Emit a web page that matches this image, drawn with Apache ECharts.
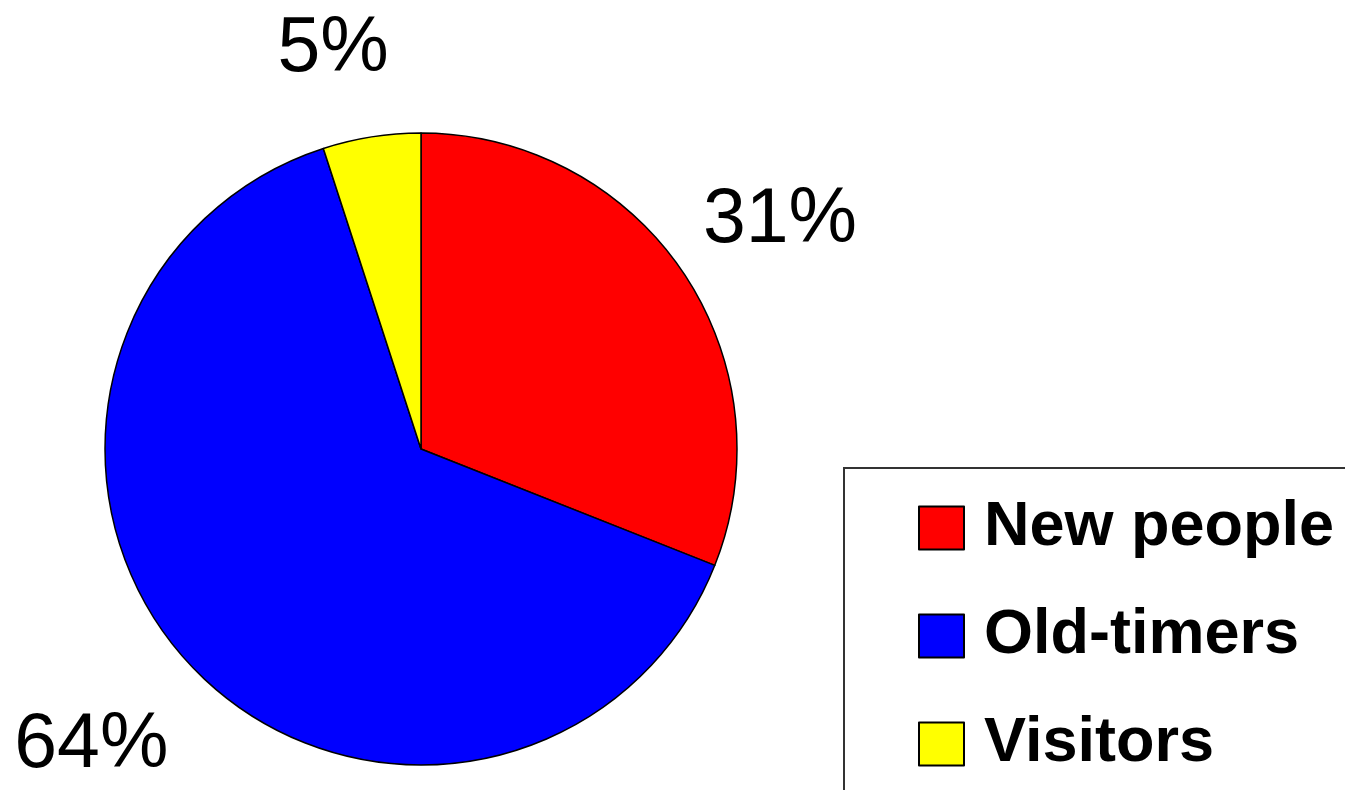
<!DOCTYPE html>
<html>
<head>
<meta charset="utf-8">
<title>pie</title>
<script src="https://cdn.jsdelivr.net/npm/echarts@6/dist/echarts.min.js"></script>
<style>
    html, body { margin: 0; padding: 0; background: #fff; }
    #chart { width: 1345px; height: 790px; }
</style>
</head>
<body>
<div id="chart"></div>
<script>
// 数据
var categories = ['New people', 'Old-timers', 'Visitors'];
var shares = [31, 64, 5];
var colors = ['#ff0000', '#0000ff', '#ffff00'];

var pieData = [];
for (var i = 0; i < categories.length; i++) {
    pieData.push({ name: categories[i], value: shares[i] });
}

// 标签微调（像素）
function labelNudge(params) {
    var nudge = [[-23, 3], [12, 15], [-3, 7]];
    var n = nudge[params.dataIndex] || [0, 0];
    return { dx: n[0], dy: n[1] };
}

var option = {
    animation: false,
    color: colors,
    legend: {
        orient: 'vertical',
        left: 844,
        top: 468,
        width: 440,
        height: 300,
        padding: [28, 40, 40, 74],
        borderColor: '#333',
        borderWidth: 2,
        backgroundColor: '#fff',
        itemWidth: 45,
        itemHeight: 43,
        itemGap: 44,
        icon: 'rect',
        selectedMode: false,
        itemStyle: {
            borderColor: '#000',
            borderWidth: 2
        },
        textStyle: {
            color: '#000',
            fontFamily: 'Liberation Sans',
            fontWeight: 'bold',
            fontSize: 63,
            lineHeight: 64,
            padding: [0, 0, 0, 15]
        },
        data: categories
    },
    series: [
        {
            name: 'people',
            type: 'pie',
            center: [421, 449],
            radius: 316,
            startAngle: 90,
            clockwise: true,
            avoidLabelOverlap: false,
            itemStyle: {
                borderColor: '#000',
                borderWidth: 1.5
            },
            label: {
                show: true,
                position: 'outside',
                formatter: '{c}%',
                color: '#000',
                fontFamily: 'Liberation Sans',
                fontSize: 77,
                distanceToLabelLine: -35
            },
            labelLine: {
                show: false,
                length: 95,
                length2: 0
            },
            labelLayout: labelNudge,
            emphasis: { disabled: true },
            data: pieData
        }
    ]
};

var chart = echarts.init(document.getElementById('chart'));
chart.setOption(option);
</script>
</body>
</html>
